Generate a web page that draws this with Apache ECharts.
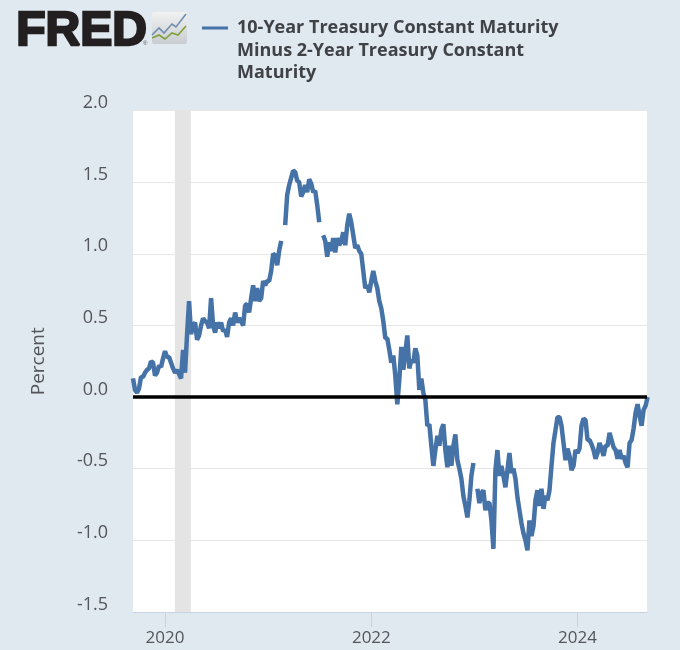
<!DOCTYPE html>
<html><head><meta charset="utf-8">
<script src="https://cdn.jsdelivr.net/npm/echarts@6/dist/echarts.min.js"></script>
<style>html,body{margin:0;padding:0;background:#e1e9f0}#c{width:680px;height:650px}</style>
</head><body><div id="c"></div>
<script>
const seriesName = '10-Year Treasury Constant Maturity Minus 2-Year Treasury Constant Maturity';
const legendText = '10-Year Treasury Constant Maturity\nMinus 2-Year Treasury Constant\nMaturity';
const firstDate = '2019-09-10';
const lastDate = '2024-09-03';
const stepDays = 7.09;
const yearTicks = ['2020-01-01', '2022-01-01', '2024-01-01'];
const recession = ['2020-02-05', '2020-04-02'];
const spread = [
.13,.05,.03,.06,.14,.14,.17,.19,.20,.25,.24,.15,.17,.22,.21,.27,.32,.28,.28,.24,.20,.17,.19,.16,.13,.33,.17,.44,.67,.44,
.50,.52,.40,.43,.50,.55,.53,.52,.48,.69,.50,.45,.52,.48,.52,.46,.47,.42,.52,.55,.50,.59,.52,.55,.53,.50,.64,.65,.59,.69,
.78,.67,.76,.67,.69,.81,.78,.81,.81,.88,1.00,.99,.92,1.02,1.09,null,1.20,1.41,1.48,1.53,1.58,1.57,1.51,1.50,1.40,1.43,1.48,1.43,1.52,1.49,
1.43,1.44,1.34,1.22,null,1.13,1.09,.98,1.08,1.02,1.11,1.01,1.11,1.06,1.09,1.15,1.06,1.20,1.28,1.22,1.13,1.04,1.06,1.02,1.00,.88,.76,.78,.73,.81,
.88,.81,.76,.67,.62,.53,.41,.41,.33,.24,.29,.15,-.05,.12,.35,.19,.31,.43,.20,.26,.24,.34,.29,.05,.13,.03,-.02,-.20,-.19,-.34,
-.48,-.37,-.27,-.34,-.23,-.19,-.37,-.49,-.34,-.48,-.34,-.26,-.44,-.50,-.57,-.69,-.76,-.84,-.72,-.55,-.46,null,-.64,-.74,-.67,-.65,-.79,-.74,-.74,-.86,
-1.06,-.51,-.37,-.55,-.48,-.55,-.63,-.51,-.39,-.53,-.50,-.57,-.70,-.79,-.88,-.95,-1.00,-1.07,-.86,-.97,-.90,-.72,-.65,-.76,-.64,-.78,-.69,-.72,-.65,-.48,
-.32,-.23,-.14,-.14,-.20,-.32,-.44,-.36,-.41,-.51,-.48,-.37,-.39,-.36,-.20,-.15,-.16,-.30,-.30,-.33,-.37,-.43,-.39,-.32,-.36,-.41,-.34,-.34,-.25,-.30,
-.35,-.37,-.43,-.37,-.43,-.41,-.46,-.49,-.32,-.30,-.22,-.11,-.05,-.13,-.20,-.09,-.06,0
];
const t0 = +new Date(firstDate);
const lineData = spread.map((v, i) => [t0 + i * stepDays * 864e5, v]);
const tickTimes = yearTicks.map(d => +new Date(d));
const chart = echarts.init(document.getElementById('c'), null, {renderer: 'canvas'});
const font = '"Open Sans"';
chart.setOption({
  animation: false,
  backgroundColor: '#e1e9f0',
  grid: {left: 133, right: 33, top: 110.5, bottom: 38, backgroundColor: '#fff', show: true, borderWidth: 0},
  legend: {
    left: 197, top: 11, orient: 'vertical', selectedMode: false,
    itemWidth: 30, itemHeight: 69,
    icon: 'path://M0 10.5h26v3h-26z M30 69h0z M0 0h0z',
    formatter: () => legendText,
    textStyle: {fontFamily: font, fontWeight: 'bold', fontSize: 18, lineHeight: 22.5, color: '#3f4246'}
  },
  xAxis: {
    type: 'value', min: t0, max: +new Date(lastDate), scale: true,
    splitLine: {show: false},
    axisLine: {onZero: false, lineStyle: {color: '#c8d2e4', width: 1}},
    axisTick: {show: true, length: 15, customValues: tickTimes, lineStyle: {color: '#c8d2e4', width: 1}},
    axisLabel: {
      customValues: tickTimes, margin: 18, fontFamily: font, fontSize: 17, color: '#53565a',
      hideOverlap: false, formatter: v => String(new Date(v).getUTCFullYear())
    }
  },
  yAxis: {
    type: 'value', min: -1.5, max: 2, interval: 0.5,
    name: 'Percent', nameLocation: 'middle', nameGap: 85, nameRotate: 90,
    nameTextStyle: {fontFamily: font, fontSize: 19, color: '#53565a'},
    axisLine: {show: false}, axisTick: {show: false},
    splitLine: {lineStyle: {color: '#e6e6e6', width: 1}},
    axisLabel: {margin: 25, verticalAlign: 'bottom', lineHeight: 15, fontFamily: font, fontSize: 18, color: '#53565a',
      formatter: v => v.toFixed(1)}
  },
  series: [{
    name: seriesName, type: 'line', data: lineData, showSymbol: false, connectNulls: false,
    lineStyle: {color: '#4572a7', width: 4.5, join: 'bevel', cap: 'butt'}, itemStyle: {color: '#4572a7'}, silent: true,
    markArea: {silent: true, itemStyle: {color: '#e4e4e4'},
      data: [[{xAxis: +new Date(recession[0])}, {xAxis: +new Date(recession[1])}]]},
    markLine: {silent: true, symbol: 'none', animation: false, label: {show: false},
      lineStyle: {color: '#000', width: 3.5, type: 'solid'}, data: [{yAxis: 0}]}
  }],
  graphic: [
    {type: 'text', left: 15, top: 7, z: 10, style: {text: 'FRED', font: '900 48px "Liberation Sans"', fill: '#231f20', stroke: '#231f20', lineWidth: 2.4}},
    {type: 'text', left: 143, top: 40, z: 10, style: {text: '®', font: '6px "Liberation Sans"', fill: '#555'}},
    {type: 'rect', z: 10, shape: {x: 152, y: 12, width: 35, height: 32, r: 2},
      style: {fill: {type: 'linear', x: 0, y: 0, x2: 0, y2: 1, colorStops: [{offset: 0, color: '#f2f2f2'}, {offset: 1, color: '#c9ccd0'}]}}},
    {type: 'polyline', z: 11, shape: {points: [[152, 35], [159, 28], [164, 33], [172, 24], [176, 27], [186, 14]]}, style: {stroke: '#6f8fb3', fill: null, lineWidth: 1.6}},
    {type: 'polyline', z: 11, shape: {points: [[152, 38], [159, 35], [165, 39], [172, 33], [178, 35], [186, 26]]}, style: {stroke: '#7fa13c', fill: null, lineWidth: 1.6}}
  ]
});
</script></body></html>
